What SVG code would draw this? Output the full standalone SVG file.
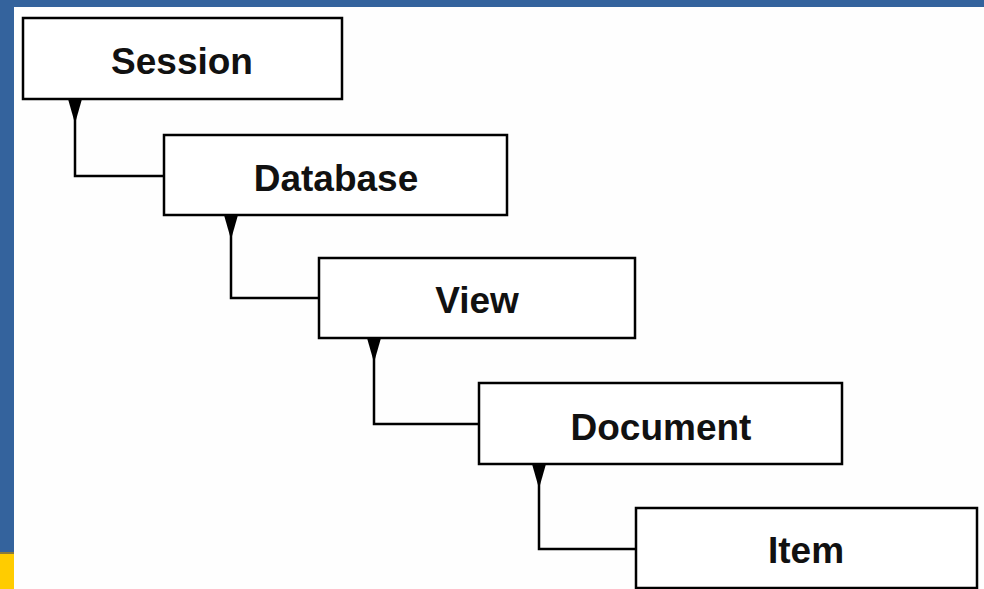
<svg xmlns="http://www.w3.org/2000/svg" width="984" height="589" viewBox="0 0 984 589">
<style>
.box{fill:#ffffff;stroke:#000;stroke-width:2.5}
.lbl{font-family:"Liberation Sans",Arial,sans-serif;font-weight:bold;font-size:37px;fill:#111;text-anchor:middle}
.conn{fill:none;stroke:#000;stroke-width:2.5}
.head{fill:#000}
</style>
<rect x="0" y="0" width="984" height="589" fill="#34639d"/>
<rect x="0" y="553" width="14" height="36" fill="#ffcc00"/>
<rect x="0" y="552" width="14" height="2" fill="#8a7a3a"/>
<rect x="14" y="7" width="970" height="582" fill="#fefefe"/>
<g id="connectors">
<path class="conn" d="M75,110 V176 H164"/>
<polygon class="head" points="68,99 82,99 76,120 74,120"/>
<path class="conn" d="M231,226 V298 H319"/>
<polygon class="head" points="224,215 238,215 232,236 230,236"/>
<path class="conn" d="M374,349 V424 H479"/>
<polygon class="head" points="367,338 381,338 375,359 373,359"/>
<path class="conn" d="M539,475 V549 H636"/>
<polygon class="head" points="532,464 546,464 540,485 538,485"/>
</g>
<g id="session"><rect class="box" x="23" y="18" width="319" height="81"/><text class="lbl" x="182" y="74">Session</text></g>
<g id="database"><rect class="box" x="164" y="135" width="343" height="80"/><text class="lbl" x="336" y="191">Database</text></g>
<g id="view"><rect class="box" x="319" y="258" width="316" height="80"/><text class="lbl" x="477" y="313">View</text></g>
<g id="document"><rect class="box" x="479" y="383" width="363" height="81"/><text class="lbl" x="661" y="440">Document</text></g>
<g id="item"><rect class="box" x="636" y="508" width="341" height="80"/><text class="lbl" x="806" y="563">Item</text></g>
</svg>
